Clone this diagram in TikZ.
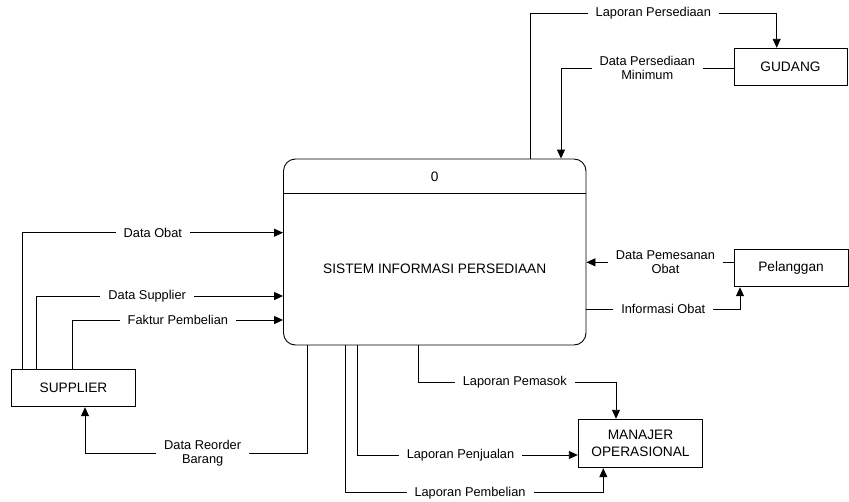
\documentclass[tikz,border=0pt]{standalone}
\usepackage{fontspec}
\setmainfont{Liberation Sans}
\usetikzlibrary{arrows.meta}
\begin{document}
\begin{tikzpicture}[x=1pt,y=-1pt,
  line width=0.9pt,
  entity/.style={draw, rectangle, inner sep=0pt, align=center,
    font=\fontsize{13.7}{16.5}\selectfont},
  procbox/.style={draw, rectangle, rounded corners=12pt, inner sep=0pt,
    minimum width=302.5pt, minimum height=186pt},
  flow/.style={-{Triangle[length=9pt,width=8pt]}},
  lbl/.style={fill=white, inner xsep=8pt, inner ysep=1pt, align=center,
    font=\fontsize{12.8}{14}\selectfont}]
\useasboundingbox (0,0) rectangle (849,501);

% process 0
\node[procbox] (main) at (434.75,252) {};
\draw (main.west |- 0,193) coordinate (divl) -- (main.east |- 0,193) coordinate (divr);
\node[font=\fontsize{13.7}{16}\selectfont] (pnum) at (434.75,177) {0};
\node[font=\fontsize{13.7}{16}\selectfont] (pname) at (434.75,269) {SISTEM INFORMASI PERSEDIAAN};

% external entities
\node[entity, minimum width=113pt, minimum height=37.5pt] (gudang) at (790.5,67) {GUDANG};
\node[entity, minimum width=114pt, minimum height=37.5pt] (pelanggan) at (791,268) {Pelanggan};
\node[entity, minimum width=123.5pt, minimum height=37.5pt] (supplier) at (73.5,388) {SUPPLIER};
\node[entity, minimum width=124.5pt, minimum height=48.5pt] (manajer) at (640.5,443.5) {MANAJER\\OPERASIONAL};

% flows between process and warehouse
\draw[flow] (530,0 |- main.north) -- (530,13.3)
  -- node[lbl] (lp1) {Laporan Persediaan} (776.7,13.3) -- (776.7,0 |- gudang.north);
\draw[flow] (gudang.west |- 0,68) -- node[lbl] (lp2) {Data Persediaan\\Minimum} (561,68)
  -- (561,0 |- main.north);

% flows from supplier
\draw[flow] (22.7,0 |- supplier.north) -- (22.7,232.7)
  -- node[lbl] (lp3) {Data Obat} (main.west |- 0,232.7);
\draw[flow] (36,0 |- supplier.north) -- (36,296)
  -- node[lbl, pos=0.45] (lp4) {Data Supplier} (main.west |- 0,296);
\draw[flow] (72.7,0 |- supplier.north) -- (72.7,320)
  -- node[lbl] (lp5) {Faktur Pembelian} (main.west |- 0,320);
\draw[flow] (307,0 |- main.south) -- (307,453)
  -- node[lbl, pos=0.47] (lp6) {Data Reorder\\Barang} (85,453) -- (85,0 |- supplier.south);

% reports to operations manager
\draw[flow] (345,0 |- main.south) -- (345,492.7)
  -- node[lbl, pos=0.484] (lp7) {Laporan Pembelian} (603.3,492.7) -- (603.3,0 |- manajer.south);
\draw[flow] (357.3,0 |- main.south) -- (357.3,455)
  -- node[lbl, pos=0.468] (lp8) {Laporan Penjualan} (manajer.west |- 0,455);
\draw[flow] (418.3,0 |- main.south) -- (418.3,382.3)
  -- node[lbl, pos=0.488] (lp9) {Laporan Pemasok} (616,382.3) -- (616,0 |- manajer.north);

% flows with customers
\draw[flow] (pelanggan.west |- 0,262.3) -- node[lbl, pos=0.463] (lp10) {Data Pemesanan\\Obat} (main.east |- 0,262.3);
\draw[flow] (main.east |- 0,309) -- node[lbl] (lp11) {Informasi Obat} (740,309)
  -- (740,0 |- pelanggan.south);
\end{tikzpicture}
\end{document}
